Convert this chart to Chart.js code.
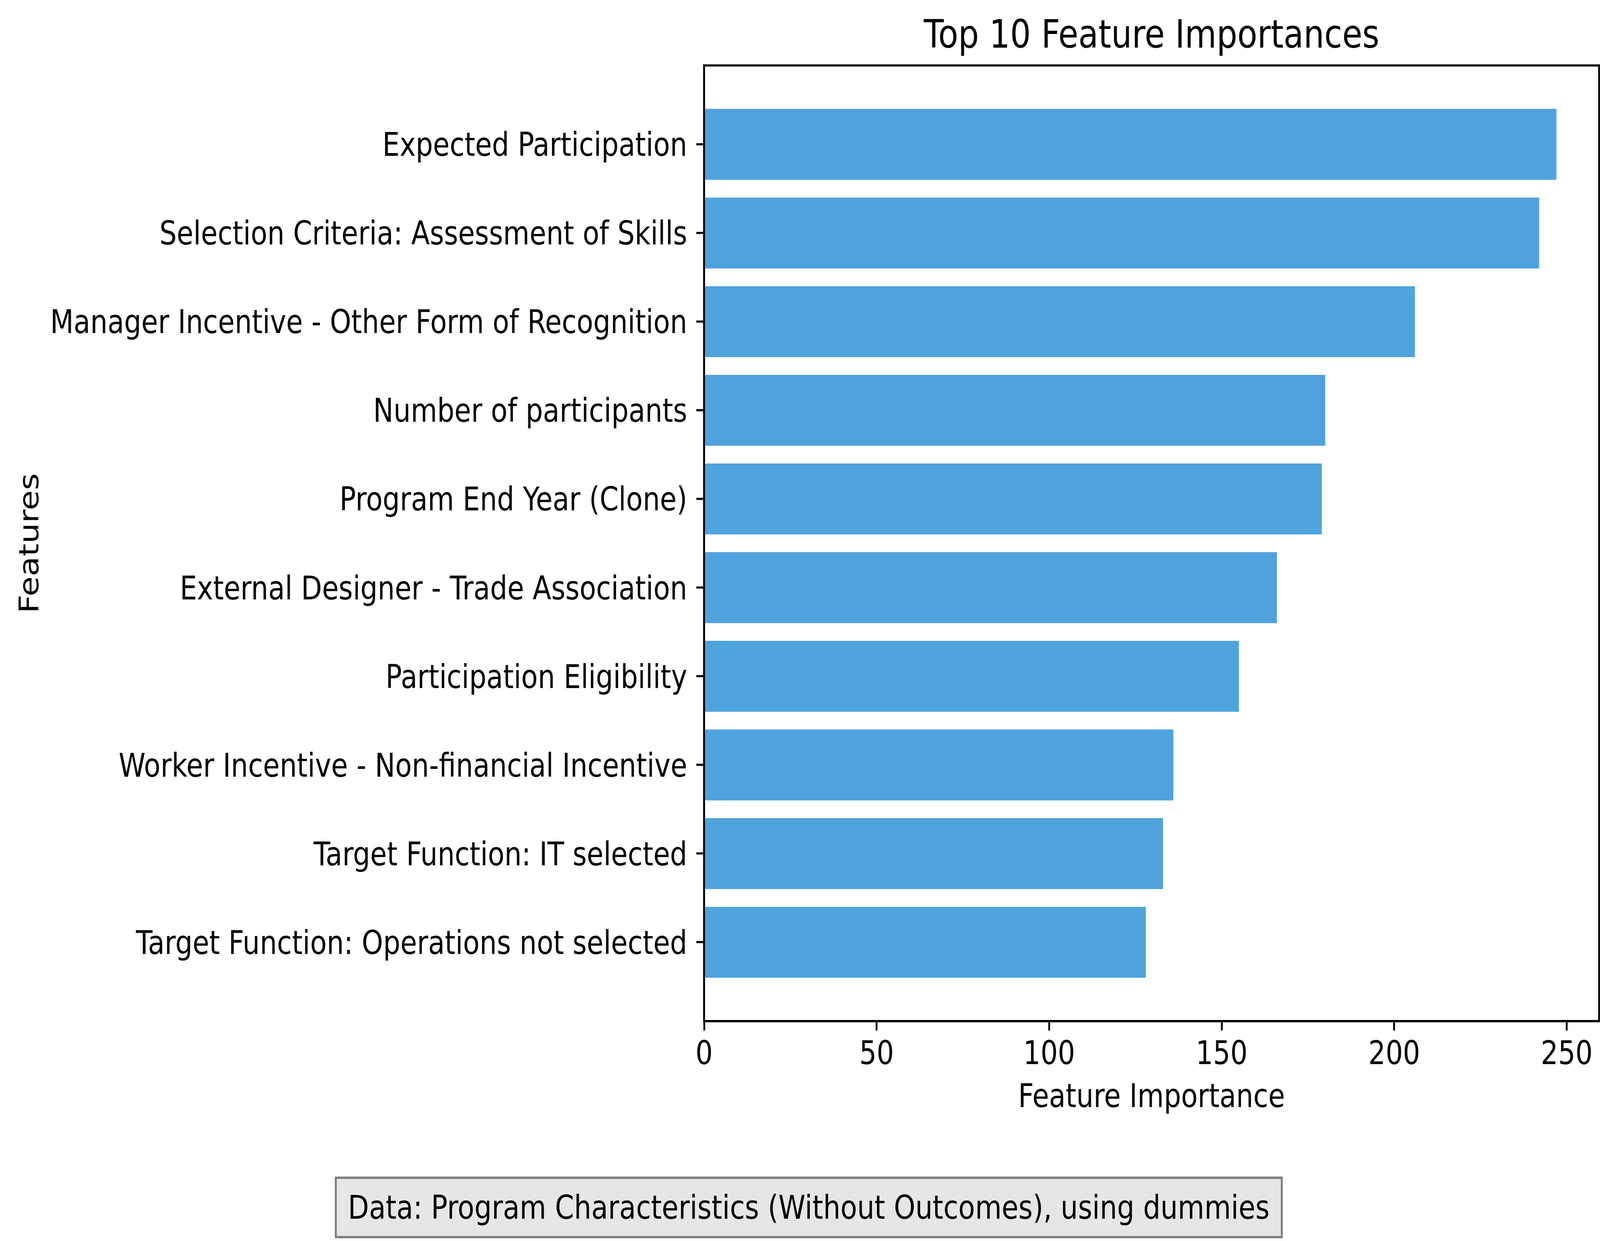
<!DOCTYPE html>
<html>
<head>
<meta charset="utf-8">
<script src="https://cdn.jsdelivr.net/npm/chart.js@4.4.1/dist/chart.umd.min.js"></script>
<style>
  html, body { margin: 0; padding: 0; background: #ffffff; overflow: hidden; }
  #stage { position: relative; width: 100vw; height: 100vh; overflow: hidden; }
  #wrap { position: absolute; left: 0; top: 0; width: 4922px; height: 3178px; transform-origin: 0 0; }
  #note {
    position: absolute; left: 1030px; top: 3013px; width: 2916px; height: 158px;
    box-sizing: border-box; background: #e6e6e6; border: 6px solid #808080;
    font-family: "DejaVu Sans", sans-serif; font-size: 84px; color: #000;
    display: flex; align-items: center; justify-content: center; white-space: nowrap;
  }
</style>
</head>
<body>
<div id="stage">
  <div id="wrap">
    <canvas id="myBarChart" width="4922" height="3178"></canvas>
    <div id="note">Data: Program Characteristics (Without Outcomes), using dummies</div>
  </div>
</div>
<script>
// features from top to bottom
var features = [
  "Expected Participation",
  "Selection Criteria: Assessment of Skills",
  "Manager Incentive - Other Form of Recognition",
  "Number of participants",
  "Program End Year (Clone)",
  "External Designer - Trade Association",
  "Participation Eligibility",
  "Worker Incentive - Non-financial Incentive",
  "Target Function: IT selected",
  "Target Function: Operations not selected"
];
var importances = [247, 242, 206, 180, 179, 166, 155, 136, 133, 128];
var xTicks = [0, 50, 100, 150, 200, 250];

document.addEventListener("DOMContentLoaded", function () {
  // stretch the 4922x3178 drawing over the whole window
  var sx = window.innerWidth / 4922;
  var sy = window.innerHeight / 3178;
  document.getElementById("wrap").style.transform = "scale(" + sx + "," + sy + ")";

  var ctx = document.getElementById("myBarChart").getContext("2d");
  var font = "DejaVu Sans";
  var fs = 83.5;

  // limits like matplotlib barh (height 0.8, 5% margins)
  var n = features.length;
  var yMin = -0.4 - 0.05 * (n - 1 + 0.8);
  var yMax = n - 1 + 0.4 + 0.05 * (n - 1 + 0.8);
  var xMax = Math.max.apply(null, importances) * 1.05;

  var frame = {
    id: "frame",
    afterDatasetsDraw: function (chart) {
      var a = chart.chartArea;
      var c = chart.ctx;
      c.save();
      c.strokeStyle = "#000";
      c.lineWidth = 5.5;
      c.strokeRect(a.left, a.top, a.right - a.left, a.bottom - a.top);
      c.restore();
    }
  };

  var data = {
    datasets: [{
      label: "Feature Importance",
      data: importances.map(function (v, i) { return { x: v, y: i }; }),
      backgroundColor: "rgb(79, 163, 220)",
      borderWidth: 0,
      barPercentage: 0.8,
      categoryPercentage: 1
    }]
  };

  var config = {
    type: "bar",
    data: data,
    plugins: [frame],
    options: {
      indexAxis: "y",
      responsive: false,
      devicePixelRatio: 1,
      animation: false,
      layout: { padding: { left: 0, top: 0, right: 3, bottom: 315 } },
      plugins: {
        legend: { display: false },
        tooltip: { enabled: false },
        title: {
          display: true,
          text: "Top 10 Feature Importances",
          fullSize: false,
          color: "#000",
          font: { family: font, size: 100.5, weight: "normal" },
          padding: { top: 36, bottom: 11 }
        }
      },
      scales: {
        x: {
          type: "linear",
          min: 0,
          max: xMax,
          afterBuildTicks: function (axis) {
            axis.ticks = xTicks.map(function (v) { return { value: v }; });
          },
          afterFit: function (scale) { scale.height = 248; },
          grid: { drawOnChartArea: false, drawTicks: true, tickLength: 24, tickWidth: 5.5, tickColor: "#000" },
          border: { display: true, color: "#000", width: 5.5 },
          ticks: { color: "#000", padding: 14, font: { family: font, size: fs } },
          title: {
            display: true,
            text: "Feature Importance",
            color: "#000",
            font: { family: font, size: fs },
            padding: { top: 0, bottom: 0 }
          }
        },
        y: {
          type: "linear",
          reverse: true,
          offset: false,
          min: yMin,
          max: yMax,
          afterBuildTicks: function (axis) {
            axis.ticks = features.map(function (f, i) { return { value: i }; });
          },
          afterFit: function (scale) { scale.width = 2166; },
          grid: { offset: false, drawOnChartArea: false, drawTicks: true, tickLength: 24, tickWidth: 5.5, tickColor: "#000" },
          border: { display: true, color: "#000", width: 5.5 },
          ticks: {
            color: "#000",
            padding: 28,
            labelOffset: 8,
            autoSkip: false,
            font: { family: font, size: fs },
            callback: function (value) { return features[value]; }
          },
          title: {
            display: true,
            text: "Features",
            color: "#000",
            font: { family: font, size: fs },
            padding: { top: 46, bottom: 0 }
          }
        }
      }
    }
  };
  var myBarChart = new Chart(ctx, config);
});
</script>
</body>
</html>
